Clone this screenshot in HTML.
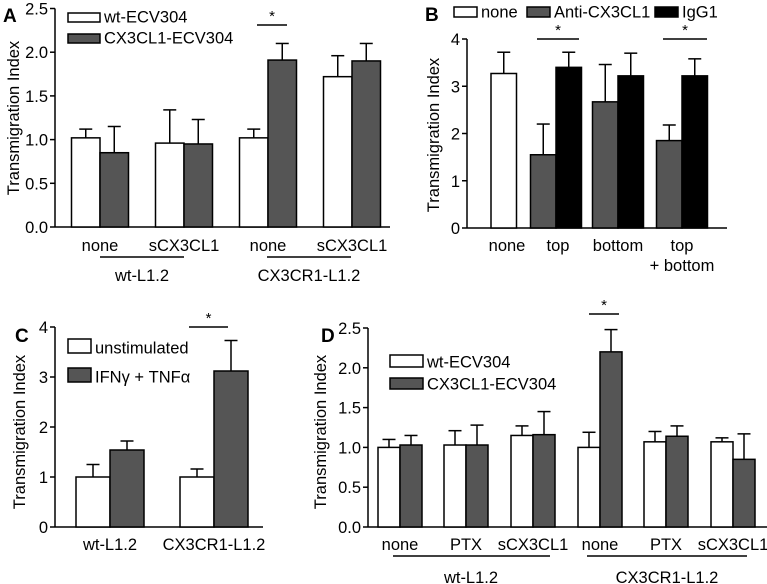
<!DOCTYPE html>
<html><head><meta charset="utf-8"><style>
body{margin:0;background:#fff}
svg{display:block;font-family:"Liberation Sans",Arial,sans-serif}
</style></head><body>
<svg id="fig" width="767" height="584" viewBox="0 0 767 584" xmlns="http://www.w3.org/2000/svg"></svg>
<script>
// Panel A data
const aCats=["none","sCX3CL1","none","sCX3CL1"];
const aWhite=[1.02,0.96,1.02,1.72];
const aWhiteErr=[1.12,1.34,1.12,1.96];
const aGray=[0.85,0.95,1.91,1.90];
const aGrayErr=[1.15,1.23,2.10,2.10];
const aTicks=["0.0","0.5","1.0","1.5","2.0","2.5"];
// Panel B data
const bCats=["none","top","bottom","top"];
const bNone=[3.27];
const bNoneErr=[3.72];
const bAnti=[1.55,2.67,1.85];
const bAntiErr=[2.20,3.46,2.18];
const bIgg=[3.40,3.22,3.22];
const bIggErr=[3.72,3.70,3.58];
const bTicks=["0","1","2","3","4"];
// Panel C data
const cCats=["wt-L1.2","CX3CR1-L1.2"];
const cWhite=[1.0,1.0];
const cWhiteErr=[1.25,1.16];
const cGray=[1.54,3.12];
const cGrayErr=[1.72,3.73];
const cTicks=["0","1","2","3","4"];
// Panel D data
const dCats=["none","PTX","sCX3CL1","none","PTX","sCX3CL1"];
const dWhite=[1.0,1.03,1.15,1.0,1.07,1.07];
const dWhiteErr=[1.10,1.21,1.27,1.19,1.20,1.12];
const dGray=[1.03,1.03,1.16,2.20,1.14,0.85];
const dGrayErr=[1.15,1.28,1.45,2.48,1.27,1.17];
const dTicks=["0.0","0.5","1.0","1.5","2.0","2.5"];

const svg=document.getElementById('fig');
const NS="http://www.w3.org/2000/svg";
const FS=16.5;
function mk(tag,attrs,parent,text){const e=document.createElementNS(NS,tag);for(const k in attrs)e.setAttribute(k,attrs[k]);if(text!==undefined)e.textContent=text;(parent||svg).appendChild(e);return e;}
function line(g,x1,y1,x2,y2,name){const l=mk('line',{x1,y1,x2,y2,stroke:'#000','stroke-width':1.5},g);return l;}
function txt(g,x,y,s,opt,name){const t=mk('text',Object.assign({x,y,'font-size':FS,fill:'#000'},opt||{}),g,s);return t;}
function bar(g,x,w,v,e,fill,ys,name){
  const y0=ys(0),yv=ys(v),ye=ys(e);
  const cx=x+w/2;
  const l=mk('line',{x1:cx,y1:yv,x2:cx,y2:ye,stroke:'#000','stroke-width':1.5},g);
  
  
  const c=mk('line',{x1:cx-6.5,y1:ye,x2:cx+6.5,y2:ye,stroke:'#000','stroke-width':1.5},g);
  
  
  const r=mk('rect',{x:x,y:yv,width:w,height:y0-yv,fill:fill,stroke:'#000','stroke-width':1.5},g);
  
  
}
function axes(g,ax,x2,yTop,yBot,ticks,maxV,name){
  const ys=v=>yBot-(v/maxV)*(yBot-yTop);
  line(g,ax,yTop,ax,yBot,name+'-y-axis');
  line(g,ax,yBot,x2,yBot,name+'-x-axis');
  ticks.forEach((t,i)=>{const v=parseFloat(t);const y=ys(v);
    line(g,ax-5,y,ax,y,name+'-tick');
    txt(g,ax-7,y+6,t,{'text-anchor':'end'},name+'-tick-label');});
  return ys;
}
function ylabel(g,x,y,name){txt(g,x,y,"Transmigration Index",{'text-anchor':'middle','font-size':16.5,transform:`rotate(-90 ${x} ${y})`},name);}
function legendBox(g,x,y,w,h,fill,label,name){const r=mk('rect',{x,y,width:w,height:h,fill,stroke:'#000','stroke-width':1.5},g);txt(g,x+w+4,y+h+0.5,label,{},name+'-label');}
function sig(g,x1,x2,y,name){line(g,x1,y,x2,y,name+'-line');txt(g,(x1+x2)/2,y-4,"*",{'text-anchor':'middle','font-size':15},name+'-star');}
function group(name){const g=mk('g',{});return g;}
const GRAY='#555';

// Panel A
(function(){
  const g=group('panel-a');
  const ys=axes(g,55,390,8.5,227,aTicks,2.5,'panel-a');
  const centers=[100,184,268,352],w=28.5;
  aCats.forEach((c,i)=>{
    bar(g,centers[i]-w,w,aWhite[i],aWhiteErr[i],'#fff',ys,'panel-a-bar-white-'+i);
    bar(g,centers[i],w,aGray[i],aGrayErr[i],GRAY,ys,'panel-a-bar-gray-'+i);
    txt(g,centers[i],251,c,{'text-anchor':'middle'},'panel-a-category-label');
  });
  line(g,100,257,184,257,'panel-a-group-line');
  line(g,267,257,351,257,'panel-a-group-line');
  txt(g,142,281,"wt-L1.2",{'text-anchor':'middle'},'panel-a-group-label');
  txt(g,309,281,"CX3CR1-L1.2",{'text-anchor':'middle'},'panel-a-group-label');
  sig(g,257,287,25,'panel-a-significance');
  legendBox(g,68,13,32,9,'#fff','wt-ECV304','panel-a-legend-wt');
  legendBox(g,68,34,32,9,GRAY,'CX3CL1-ECV304','panel-a-legend-cx3cl1');
  txt(g,3,22,"A",{'font-weight':'bold','font-size':19},'panel-a-letter');
  ylabel(g,19,118,'panel-a-y-axis-title');
})();

// Panel B
(function(){
  const g=group('panel-b');
  const ys=axes(g,467,727,39,228,bTicks,4,'panel-b');
  const w=25.5;
  bar(g,491,w,bNone[0],bNoneErr[0],'#fff',ys,'panel-b-bar-none');
  const pc=[556,618,682];
  bAnti.forEach((v,i)=>{
    bar(g,pc[i]-w,w,bAnti[i],bAntiErr[i],GRAY,ys,'panel-b-bar-anti-'+i);
    bar(g,pc[i],w,bIgg[i],bIggErr[i],'#000',ys,'panel-b-bar-igg-'+i);
  });
  const lc=[507,558,618,682];
  bCats.forEach((c,i)=>txt(g,lc[i],251,c,{'text-anchor':'middle'},'panel-b-category-label'));
  txt(g,682,271,"+ bottom",{'text-anchor':'middle'},'panel-b-category-label');
  sig(g,537,579,39,'panel-b-significance');
  sig(g,663,707,39,'panel-b-significance');
  legendBox(g,454,7,23,10,'#fff','none','panel-b-legend-none');
  legendBox(g,527,7,23,10,GRAY,'Anti-CX3CL1','panel-b-legend-anti');
  legendBox(g,655,7,23,10,'#000','IgG1','panel-b-legend-igg');
  txt(g,425,21,"B",{'font-weight':'bold','font-size':19},'panel-b-letter');
  ylabel(g,439,135,'panel-b-y-axis-title');
})();

// Panel C
(function(){
  const g=group('panel-c');
  const ys=axes(g,55,263,327,527,cTicks,4,'panel-c');
  const centers=[110,214],w=34;
  cCats.forEach((c,i)=>{
    bar(g,centers[i]-w,w,cWhite[i],cWhiteErr[i],'#fff',ys,'panel-c-bar-white-'+i);
    bar(g,centers[i],w,cGray[i],cGrayErr[i],GRAY,ys,'panel-c-bar-gray-'+i);
    txt(g,centers[i],550,c,{'text-anchor':'middle'},'panel-c-category-label');
  });
  sig(g,189,228,327,'panel-c-significance');
  legendBox(g,68,339,23,14,'#fff','unstimulated','panel-c-legend-unstim');
  legendBox(g,68,368,23,14,GRAY,'IFNγ + TNFα','panel-c-legend-ifn');
  txt(g,15,342,"C",{'font-weight':'bold','font-size':19},'panel-c-letter');
  ylabel(g,25,432,'panel-c-y-axis-title');
})();

// Panel D
(function(){
  const g=group('panel-d');
  const ys=axes(g,368,767,328,527,dTicks,2.5,'panel-d');
  const centers=[400,466,533,600,666,733],w=22;
  dCats.forEach((c,i)=>{
    bar(g,centers[i]-w,w,dWhite[i],dWhiteErr[i],'#fff',ys,'panel-d-bar-white-'+i);
    bar(g,centers[i],w,dGray[i],dGrayErr[i],GRAY,ys,'panel-d-bar-gray-'+i);
    txt(g,centers[i],550,c,{'text-anchor':'middle'},'panel-d-category-label');
  });
  line(g,393,556,550,556,'panel-d-group-line');
  line(g,587,556,747,556,'panel-d-group-line');
  txt(g,471,583,"wt-L1.2",{'text-anchor':'middle'},'panel-d-group-label');
  txt(g,667,583,"CX3CR1-L1.2",{'text-anchor':'middle'},'panel-d-group-label');
  sig(g,589,619,314,'panel-d-significance');
  legendBox(g,390,355,33,12,'#fff','wt-ECV304','panel-d-legend-wt');
  legendBox(g,390,378,33,11,GRAY,'CX3CL1-ECV304','panel-d-legend-cx3cl1');
  txt(g,321,342,"D",{'font-weight':'bold','font-size':19},'panel-d-letter');
  ylabel(g,326,432,'panel-d-y-axis-title');
})();
</script>
</body></html>
